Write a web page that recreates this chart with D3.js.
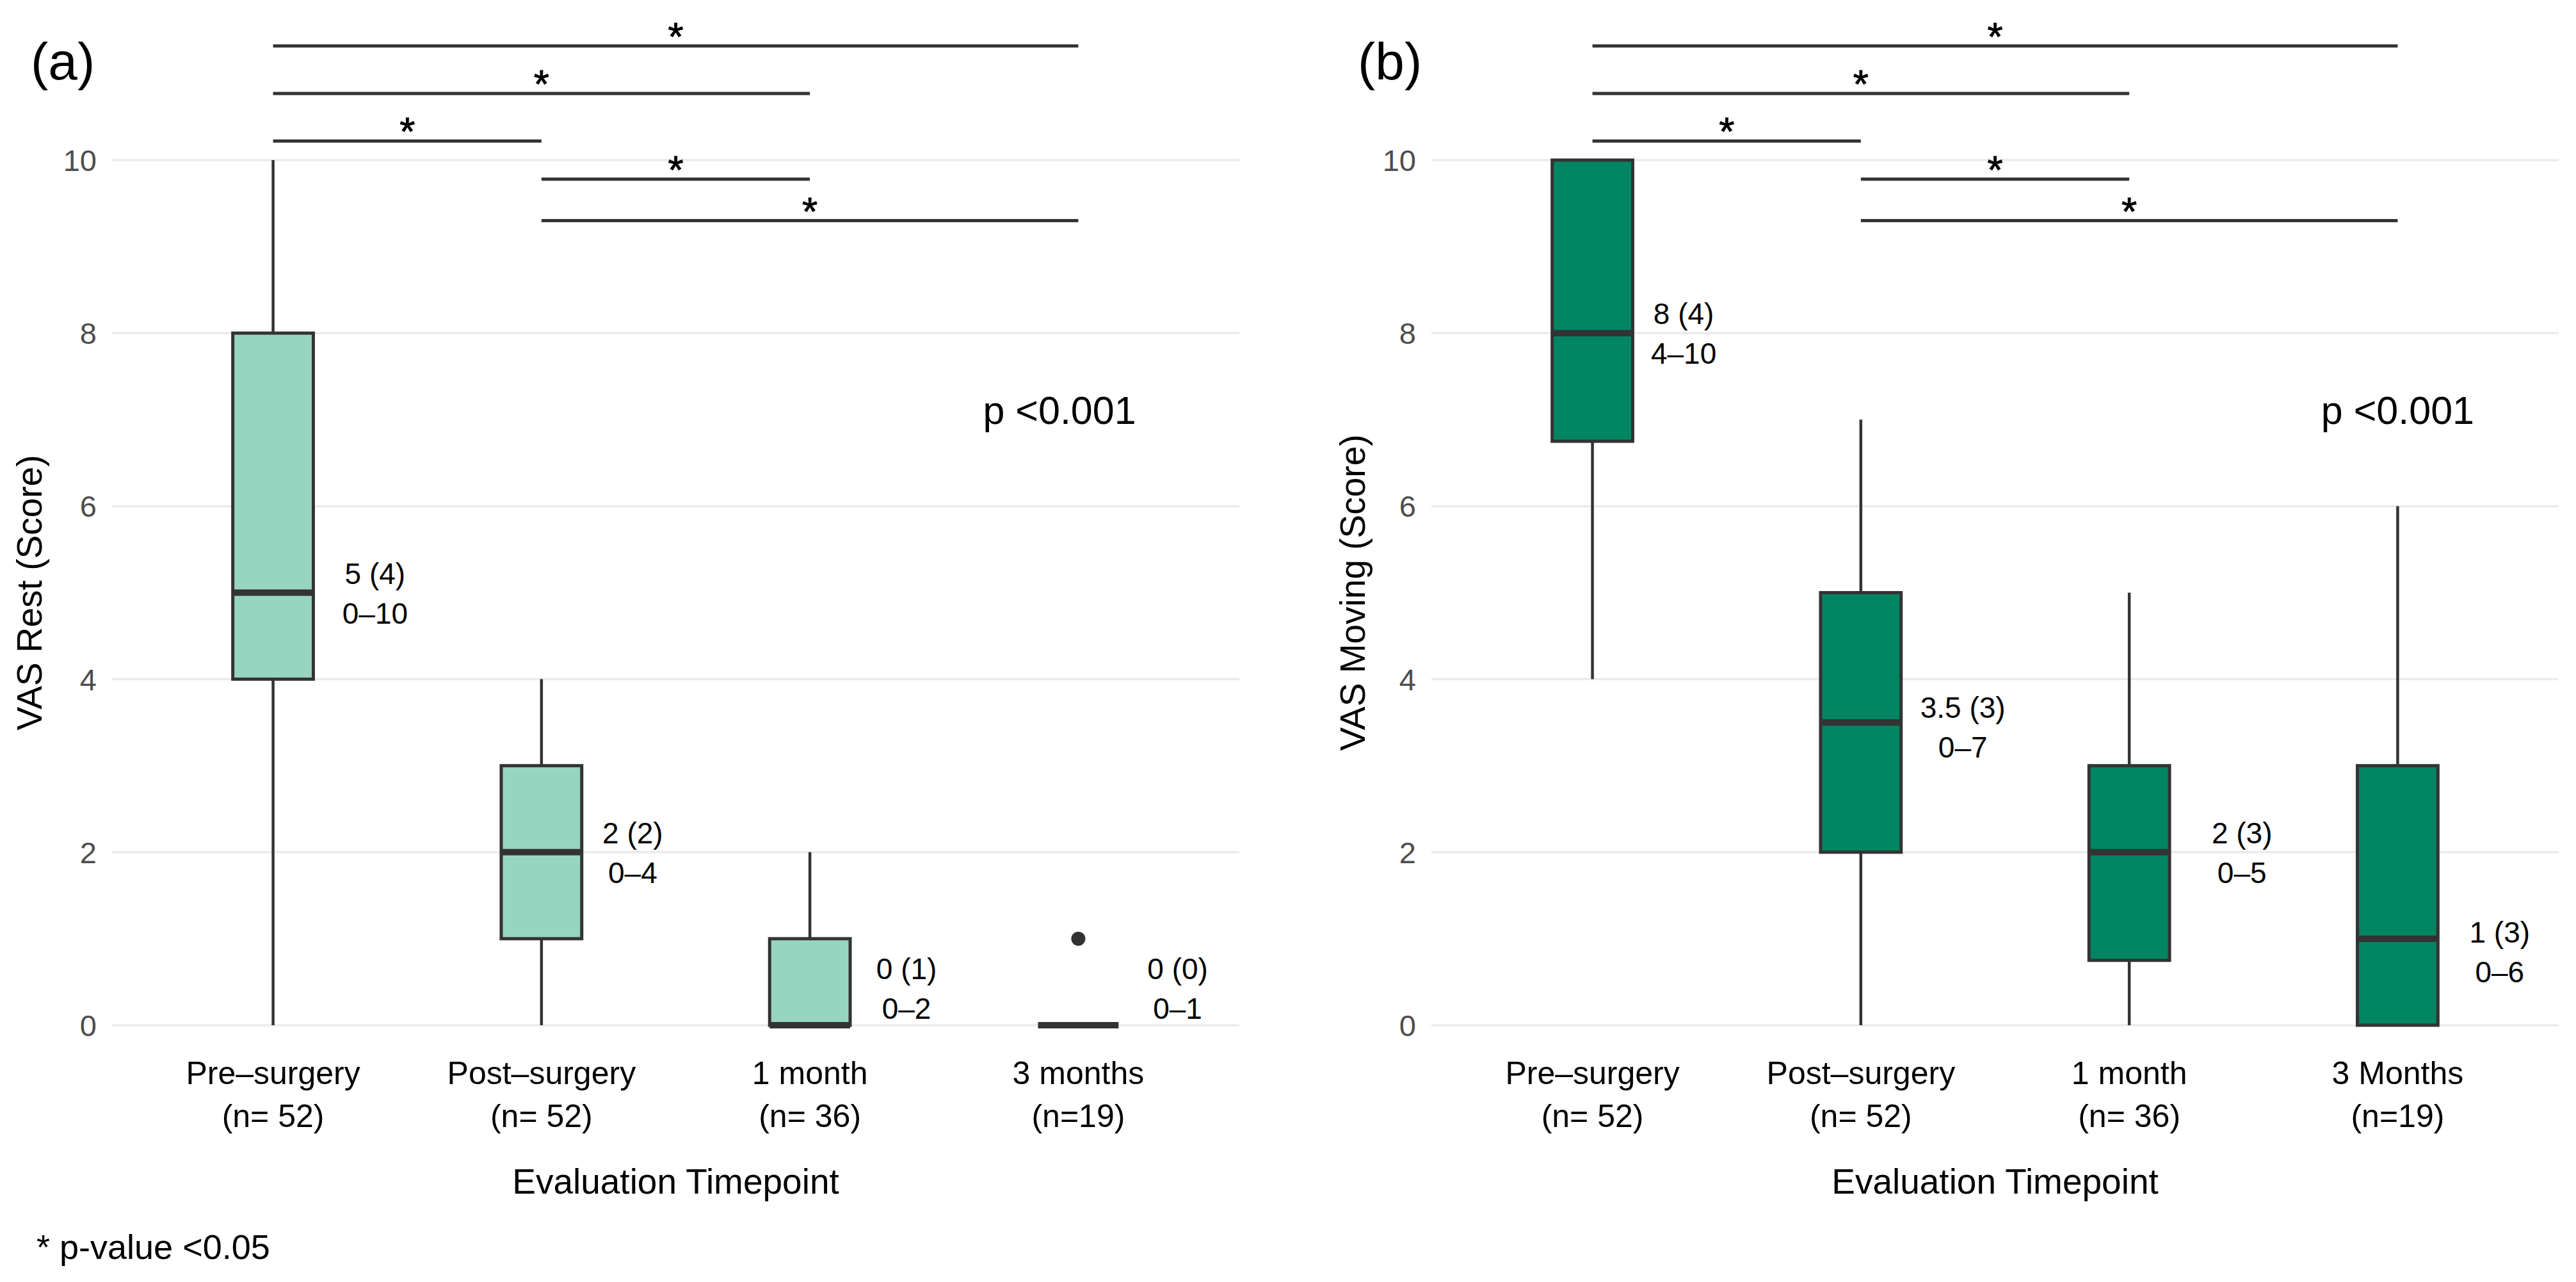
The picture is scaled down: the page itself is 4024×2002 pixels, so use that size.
<!DOCTYPE html>
<html>
<head>
<meta charset="utf-8">
<script src="https://cdn.jsdelivr.net/npm/d3@7"></script>
<style>
  body { margin: 0; background: #fff; }
  text { font-family: "Liberation Sans", Arial, Helvetica, sans-serif; }
</style>
</head>
<body>
<div id="chart"></div>
<script>
// Categories and tick labels
const restCategories = ["Pre–surgery", "Post–surgery", "1 month", "3 months"];
const movingCategories = ["Pre–surgery", "Post–surgery", "1 month", "3 Months"];
const nLabels = ["(n= 52)", "(n= 52)", "(n= 36)", "(n=19)"];
const yTicks = [0, 2, 4, 6, 8, 10];

// Box stats per timepoint: [lower whisker, Q1, median, Q3, upper whisker]
const restStats = [[0, 4, 5, 8, 10], [0, 1, 2, 3, 4], [0, 0, 0, 1, 2], [0, 0, 0, 0, 0]];
const restOutliers = [[], [], [], [1]];
const movingStats = [[4, 6.75, 8, 10, 10], [0, 2, 3.5, 5, 7], [0, 0.75, 2, 3, 5], [0, 0, 1, 3, 6]];
const movingOutliers = [[], [], [], []];

// Median (IQR) / range labels next to each box
const restLabels = [["5 (4)", "0–10"], ["2 (2)", "0–4"], ["0 (1)", "0–2"], ["0 (0)", "0–1"]];
const movingLabels = [["8 (4)", "4–10"], ["3.5 (3)", "0–7"], ["2 (3)", "0–5"], ["1 (3)", "0–6"]];
// label anchors: [shift in category steps, score]
const restLabelAt = [[0.38, 5], [0.34, 2], [0.36, 0.43], [0.37, 0.43]];
const movingLabelAt = [[0.34, 8], [0.38, 3.45], [0.42, 2], [0.38, 0.85]];

// Pairwise comparisons (index pairs) and the score where each bracket sits
const comparisons = [[0, 3], [0, 2], [0, 1], [1, 2], [1, 3]];
const bracketScore = [11.32, 10.77, 10.22, 9.78, 9.30];

const width = 4024;
const height = 2002;
const plotTop = 250;      // y of score 10
const plotBottom = 1601;  // y of score 0

const svg = d3.select("#chart")
    .append("svg")
    .attr("width", width)
    .attr("height", height);

const y = d3.scaleLinear()
    .domain([0, 10])
    .range([plotBottom, plotTop]);

function drawPanel(p) {
    const g = svg.append("g");

    // ggplot-like discrete scale: 0.6 step of padding on each side
    const x = d3.scalePoint()
        .domain(p.categories)
        .range([p.left, p.right])
        .padding(0.6);
    const step = x.step();
    const xAt = i => x(p.categories[0]) + i * step;
    const boxW = 0.3 * step;

    // gridlines
    g.selectAll(".grid")
        .data(yTicks)
        .enter()
        .append("line")
        .attr("x1", p.left)
        .attr("x2", p.right)
        .attr("y1", d => y(d))
        .attr("y2", d => y(d))
        .attr("stroke", "#EBEBEB")
        .attr("stroke-width", 3.5);

    // y tick labels
    g.selectAll(".ytick")
        .data(yTicks)
        .enter()
        .append("text")
        .attr("x", p.left - 24)
        .attr("y", d => y(d))
        .attr("dy", "0.36em")
        .attr("text-anchor", "end")
        .attr("font-size", 47)
        .attr("fill", "#4D4D4D")
        .text(d => d);

    // x tick labels (two lines)
    const xt = g.selectAll(".xtick")
        .data(p.categories)
        .enter()
        .append("text")
        .attr("text-anchor", "middle")
        .attr("font-size", 50)
        .attr("fill", "#000");
    xt.append("tspan")
        .attr("x", d => x(d))
        .attr("y", 1693)
        .text(d => d);
    xt.append("tspan")
        .attr("x", d => x(d))
        .attr("y", 1760)
        .text((d, i) => nLabels[i]);

    // axis titles
    g.append("text")
        .attr("x", (p.left + p.right) / 2)
        .attr("y", 1864)
        .attr("text-anchor", "middle")
        .attr("font-size", 55)
        .text("Evaluation Timepoint");

    g.append("text")
        .attr("transform", `translate(${p.yTitleX}, ${y(5)}) rotate(-90)`)
        .attr("text-anchor", "middle")
        .attr("font-size", 55)
        .text(p.yTitle);

    // panel tag
    g.append("text")
        .attr("x", p.tagX)
        .attr("y", 124)
        .attr("font-size", 82)
        .text(p.tag);

    // whiskers
    const boxes = p.stats.map((s, i) => ({ cat: p.categories[i], s: s }));
    g.selectAll(".whisker-lo")
        .data(boxes.filter(d => d.s[1] > d.s[0]))
        .enter()
        .append("line")
        .attr("x1", d => x(d.cat))
        .attr("x2", d => x(d.cat))
        .attr("y1", d => y(d.s[0]))
        .attr("y2", d => y(d.s[1]))
        .attr("stroke", "#333333")
        .attr("stroke-width", 4.5);
    g.selectAll(".whisker-hi")
        .data(boxes.filter(d => d.s[4] > d.s[3]))
        .enter()
        .append("line")
        .attr("x1", d => x(d.cat))
        .attr("x2", d => x(d.cat))
        .attr("y1", d => y(d.s[3]))
        .attr("y2", d => y(d.s[4]))
        .attr("stroke", "#333333")
        .attr("stroke-width", 4.5);

    // boxes
    g.selectAll(".box")
        .data(boxes.filter(d => d.s[3] > d.s[1]))
        .enter()
        .append("rect")
        .attr("x", d => x(d.cat) - boxW / 2)
        .attr("y", d => y(d.s[3]))
        .attr("width", boxW)
        .attr("height", d => y(d.s[1]) - y(d.s[3]))
        .attr("fill", p.fill)
        .attr("stroke", "#333333")
        .attr("stroke-width", 5);

    // medians
    g.selectAll(".median")
        .data(boxes)
        .enter()
        .append("line")
        .attr("x1", d => x(d.cat) - boxW / 2)
        .attr("x2", d => x(d.cat) + boxW / 2)
        .attr("y1", d => y(d.s[2]))
        .attr("y2", d => y(d.s[2]))
        .attr("stroke", "#333333")
        .attr("stroke-width", 10);

    // outliers
    const outs = [];
    p.outliers.forEach((arr, i) => arr.forEach(v => outs.push({ cat: p.categories[i], v: v })));
    g.selectAll(".outlier")
        .data(outs)
        .enter()
        .append("circle")
        .attr("cx", d => x(d.cat))
        .attr("cy", d => y(d.v))
        .attr("r", 11)
        .attr("fill", "#333333");

    // labels beside boxes
    const lab = g.selectAll(".boxlabel")
        .data(p.labels)
        .enter()
        .append("text")
        .attr("text-anchor", "middle")
        .attr("font-size", 46)
        .attr("fill", "#000");
    lab.append("tspan")
        .attr("x", (d, i) => xAt(i + p.labelAt[i][0]))
        .attr("y", (d, i) => y(p.labelAt[i][1]) - 14)
        .text(d => d[0]);
    lab.append("tspan")
        .attr("x", (d, i) => xAt(i + p.labelAt[i][0]))
        .attr("y", (d, i) => y(p.labelAt[i][1]) + 48)
        .text(d => d[1]);

    // p value
    g.append("text")
        .attr("x", xAt(p.pAt[0]))
        .attr("y", y(p.pAt[1]))
        .attr("text-anchor", "middle")
        .attr("font-size", 61)
        .text("p <0.001");

    // significance brackets
    g.selectAll(".bracket")
        .data(comparisons)
        .enter()
        .append("line")
        .attr("x1", d => x(p.categories[d[0]]))
        .attr("x2", d => x(p.categories[d[1]]))
        .attr("y1", (d, i) => y(bracketScore[i]))
        .attr("y2", (d, i) => y(bracketScore[i]))
        .attr("stroke", "#333333")
        .attr("stroke-width", 5);
    g.selectAll(".star")
        .data(comparisons)
        .enter()
        .append("text")
        .attr("x", d => (x(p.categories[d[0]]) + x(p.categories[d[1]])) / 2)
        .attr("y", (d, i) => y(bracketScore[i]) + 6)
        .attr("text-anchor", "middle")
        .attr("font-size", 62)
        .attr("stroke", "#000")
        .attr("stroke-width", 1)
        .text("*");
}

drawPanel({
    tag: "(a)", tagX: 48,
    left: 175, right: 1936, yTitleX: 65,
    yTitle: "VAS Rest (Score)",
    categories: restCategories,
    stats: restStats, outliers: restOutliers,
    labels: restLabels, labelAt: restLabelAt,
    pAt: [2.93, 6.95],
    fill: "#98D5C1"
});

drawPanel({
    tag: "(b)", tagX: 2121,
    left: 2236, right: 3997, yTitleX: 2132,
    yTitle: "VAS Moving (Score)",
    categories: movingCategories,
    stats: movingStats, outliers: movingOutliers,
    labels: movingLabels, labelAt: movingLabelAt,
    pAt: [3.0, 6.95],
    fill: "#008563"
});

// footnote
svg.append("text")
    .attr("x", 57)
    .attr("y", 1966)
    .attr("font-size", 54)
    .text("* p-value <0.05");
</script>
</body>
</html>
